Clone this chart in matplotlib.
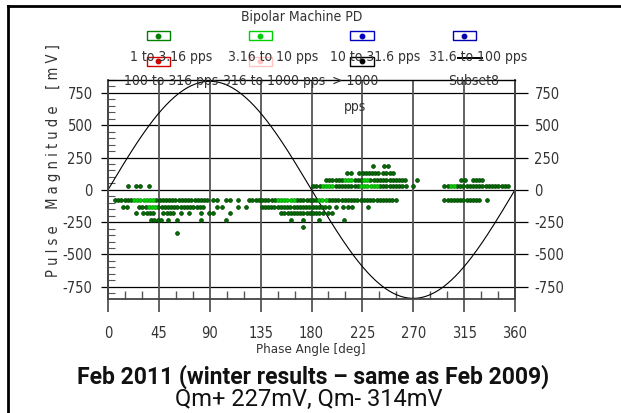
#!/usr/bin/env python3
"""Bipolar machine PD phase-resolved plot (Feb 2011)."""

import matplotlib

matplotlib.use("Agg")

import matplotlib.pyplot as plt
import matplotlib.font_manager as fm
from matplotlib.patches import Rectangle
from matplotlib.lines import Line2D
from matplotlib.ticker import MultipleLocator
import numpy as np

# ---- data ----
BIN = 360 / 128  # phase window width of the PD analyser

# pulse magnitude rows (mV) and phase runs (start, end) in deg
level_mv = [26, 78, 130, 182, -78, -130, -182, -234, -286, -338]
level_runs = [
    [(17.7, 17.7), (25, 25), (28.4, 28.4), (36.3, 36.3), (181.6, 264.2),
     (270, 270), (297.5, 353)],
    [(192.8, 264.2), (273.6, 273.6), (312.2, 312.2), (315.8, 315.8),
     (322.5, 331)],
    [(211, 211), (215, 215), (222.3, 239), (243.5, 253.3)],
    [(234, 234), (244.4, 244.4), (248, 248)],
    [(6.2, 87.3), (93, 93), (96.6, 96.6), (104.3, 104.3), (107.9, 107.9),
     (114.6, 114.6), (125, 253.9), (297.5, 329), (335, 335)],
    [(13.6, 13.6), (17, 17), (27.7, 83.7), (96.6, 96.6), (100.5, 100.5),
     (114.6, 114.6), (122, 122), (136, 195.5), (201.3, 201.3), (208, 208),
     (212, 212), (216, 216), (230, 230)],
    [(24.8, 24.8), (31.3, 40.6), (49, 57.7), (64.2, 64.2), (71.9, 71.9),
     (82.2, 82.2), (89.6, 89.6), (93, 93), (107.9, 107.9), (153.2, 189),
     (195, 195), (198.4, 198.4)],
    [(38, 38), (41, 41), (44, 44), (47, 47), (53.3, 53.3), (60.7, 60.7),
     (82.2, 82.2), (104, 104), (162, 162), (172.7, 172.7), (186.5, 186.5),
     (208.7, 208.7)],
    [(172.7, 172.7)],
    [(60.6, 60.6)],
]
# spans where the dots are the brighter 3.16-10 pps colour
bright_spans = [(-78, 22, 41), (-78, 150, 165), (-78, 186, 195), (-130, 36, 42),
                (26, 190, 200), (26, 222, 238), (26, 302, 308),
                (78, 208, 217), (78, 226, 232)]

SINE_AMP = 840

x_ticks = [0, 45, 90, 135, 180, 225, 270, 315, 360]
y_ticks = [-750, -500, -250, 0, 250, 500, 750]

leg_labels = ["1 to 3.16 pps", "3.16 to 10 pps", "10 to 31.6 pps",
              "31.6 to 100 pps", "100 to 316 pps", "316 to 1000 pps",
              "> 1000\npps", "Subset8"]
leg_colors = ["#008000", "#00d000", "#0000c0", "#0000b0",
              "#d00000", "#ffc4c4", "#000000", "#000000"]

# ---- fonts ----
names = {f.name for f in fm.fontManager.ttflist}
if "Liberation Sans Narrow" in names:
    NARROW = dict(family="Liberation Sans Narrow")
else:
    NARROW = dict(family="DejaVu Sans", stretch="condensed")
TXT = "#333333"

W, H = 621, 413


def fx(x):
    return x / W


def fy(y):
    return 1 - y / H


fig = plt.figure(figsize=(W / 100, H / 100), dpi=100)
ax = fig.add_axes([fx(108), fy(299), 407 / W, 219 / H])
ax.set_xlim(0, 360)
ax.set_ylim(-845, 850)

# points
px, py, bright = [], [], []
for lv, runs in zip(level_mv, level_runs):
    for a, b in runs:
        for p in np.arange(a, b + BIN / 2, BIN):
            px.append(p)
            py.append(lv)
            bright.append(any(lv == s[0] and s[1] <= p <= s[2] for s in bright_spans))
px, py, bright = np.array(px), np.array(py), np.array(bright)

# grid lines (they run past the frame)
ax.hlines(y_ticks, -6.2, 371.5, colors="black", lw=0.9, clip_on=False, zorder=1)
ax.vlines(x_ticks, -945, 850, colors="#555555", lw=1.3, clip_on=False, zorder=1)

ax.scatter(px[~bright], py[~bright], s=7.5, c="#006e00", edgecolors="#004000",
           linewidths=0.5, zorder=3)
ax.scatter(px[bright], py[bright], s=7.5, c="#00d400", edgecolors="#009000",
           linewidths=0.5, zorder=3)

ph = np.linspace(0, 360, 721)
ax.plot(ph, SINE_AMP * np.sin(np.radians(ph)), color="black", lw=0.8, zorder=2)

for side in ["left", "right", "bottom"]:
    ax.spines[side].set_color("#444444")
    ax.spines[side].set_linewidth(1.3)
ax.spines["top"].set_color("black")
ax.spines["top"].set_linewidth(1.0)

ax.set_xticks(x_ticks)
ax.set_xticklabels([str(t) for t in x_ticks], fontsize=10.5, color=TXT, **NARROW)
ax.set_yticks(y_ticks)
ax.set_yticklabels([str(t) for t in y_ticks], fontsize=10.5, color=TXT, **NARROW)
ax.xaxis.set_minor_locator(MultipleLocator(15))
ax.yaxis.set_minor_locator(MultipleLocator(50))
ax.tick_params(axis="x", which="major", length=0, pad=19.5)
ax.tick_params(axis="y", which="major", length=0, pad=11)
ax.tick_params(axis="x", which="minor", direction="in", length=5.8, width=1,
               color="#555555")
ax.tick_params(axis="y", which="minor", direction="in", length=4.8, width=0.8,
               color="#555555", left=True, right=True)

ax2 = ax.twinx()
ax2.set_ylim(ax.get_ylim())
ax2.set_yticks(y_ticks)
ax2.set_yticklabels([str(t) for t in y_ticks], fontsize=10.5, color=TXT, **NARROW)
ax2.tick_params(axis="y", length=0, pad=14)
for s in ax2.spines.values():
    s.set_visible(False)

# axis titles
fig.text(fx(311), fy(349.5), "Phase Angle [deg]", ha="center", va="center",
         fontsize=9.5, color=TXT, **NARROW)
fig.text(fx(54), fy(161), "P u l s e    M a g n i t u d e    [ m V ]",
         rotation=90, ha="center", va="center", fontsize=10.5, color=TXT,
         **NARROW)

# legend
fig.text(fx(302), fy(17), "Bipolar Machine PD", ha="center", va="center",
         fontsize=10, color=TXT, **NARROW)
box_x = [158, 260, 362, 464]
label_x = [[171, 273.5, 375, 478], [171.5, 274.5, 355, 474]]
for i, (lab, col) in enumerate(zip(leg_labels, leg_colors)):
    r, c = divmod(i, 4)
    bx, by = box_x[c], [35.5, 61][r]
    if lab == "Subset8":
        fig.add_artist(Line2D([fx(458), fx(482)], [fy(57.5), fy(57.5)],
                              color="black", lw=1.4))
    else:
        fig.add_artist(Rectangle((fx(bx - 11.5), fy(by + 4.5)), 23 / W, 9 / H,
                                 facecolor="white", edgecolor=col, lw=1.0,
                                 zorder=1))
        fig.add_artist(Line2D([fx(bx)], [fy(by)], marker="o", ms=3.2,
                              color=col, zorder=2))
    for k, line in enumerate(lab.split("\n")):
        fig.text(fx(label_x[r][c]), fy([57, 81][r] + 26 * k), line,
                 ha="center", va="center", fontsize=10, color=TXT, **NARROW)

# captions
fig.text(fx(313), fy(384), "Feb 2011 (winter results \u2013 same as Feb 2009)",
         ha="center", va="baseline", fontsize=16.5, fontweight="bold",
         family="Roboto", color="#111111")
fig.text(fx(309), fy(406), "Qm+ 227mV, Qm- 314mV", ha="center", va="baseline",
         fontsize=17, family="Roboto", color="#111111")

# cell border
fig.add_artist(Line2D([fx(7.5), 1], [fy(6), fy(6)], color="black", lw=2))
fig.add_artist(Line2D([fx(7.5), fx(7.5)], [fy(6), 0], color="black", lw=2))

fig.savefig("out.png", dpi=100)
plt.close(fig)
